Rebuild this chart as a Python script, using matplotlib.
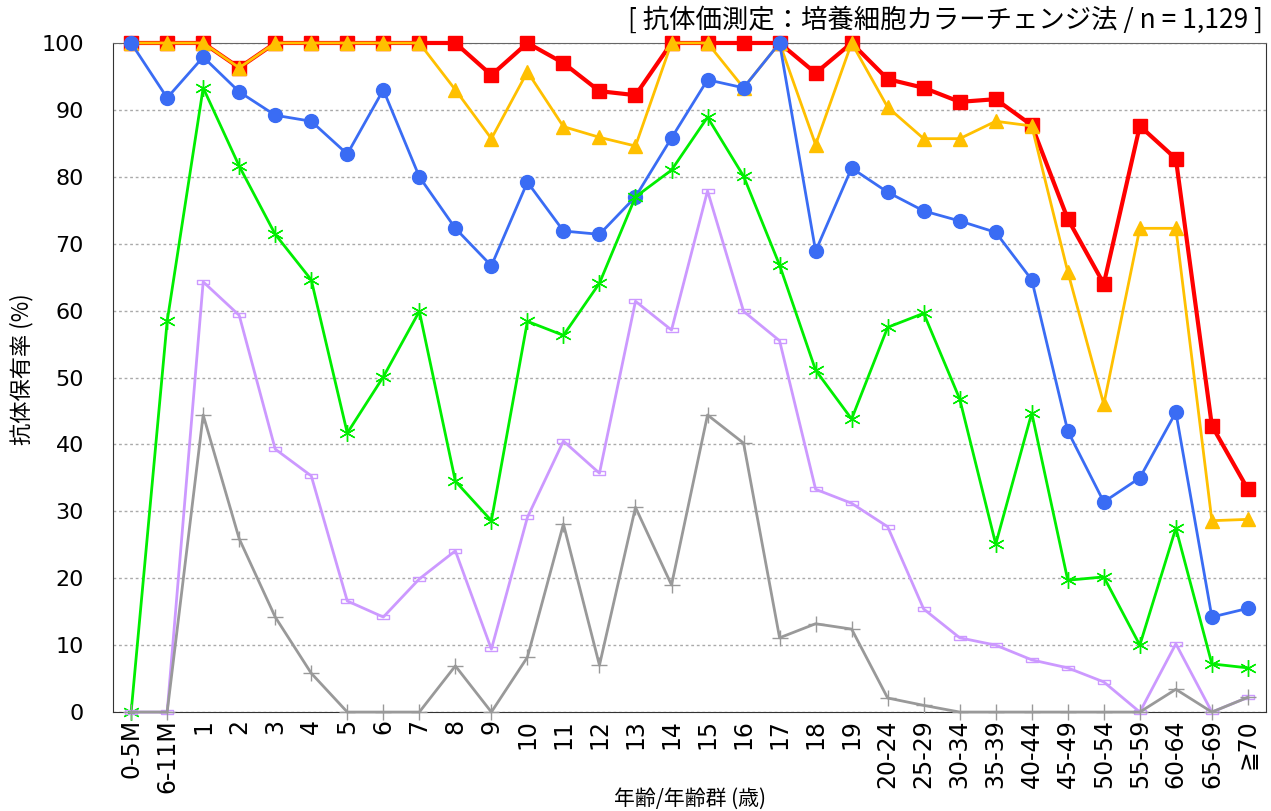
import matplotlib
matplotlib.use("Agg")
import matplotlib.pyplot as plt
import numpy as np

plt.rcParams['font.family'] = ['DejaVu Sans', 'Noto Sans CJK JP']
cjk = ['Noto Sans CJK JP', 'DejaVu Sans']

ages = ['0-5M', '6-11M'] + [str(a) for a in range(1, 20)] + \
    ['20-24', '25-29', '30-34', '35-39', '40-44', '45-49', '50-54',
     '55-59', '60-64', '65-69', '≧70']

# 抗体保有率 (%) – 各系列
red = [100, 100, 100, 96.3, 100, 100, 100, 100, 100, 100, 95.2, 100, 97.0, 92.8, 92.2,
       100, 100, 100, 100, 95.5, 100, 94.6, 93.3, 91.2, 91.6, 87.7, 73.7, 64.0, 87.6,
       82.7, 42.8, 33.3]
yellow = [100, 100, 100, 96.3, 100, 100, 100, 100, 100, 93.0, 85.7, 95.7, 87.5, 85.9, 84.6,
          100, 100, 93.3, 100, 84.8, 100, 90.4, 85.7, 85.7, 88.3, 87.6, 65.8, 46.0, 72.3,
          72.3, 28.6, 28.8]
blue = [100, 91.8, 97.9, 92.7, 89.2, 88.3, 83.4, 93.0, 80.0, 72.3, 66.7, 79.2, 71.9, 71.4,
        77.0, 85.8, 94.5, 93.3, 100, 68.9, 81.3, 77.7, 74.9, 73.4, 71.7, 64.6, 42.0, 31.4,
        35.0, 44.8, 14.2, 15.5]
green = [0, 58.4, 93.3, 81.6, 71.4, 64.6, 41.7, 50.1, 59.9, 34.5, 28.6, 58.4, 56.3, 64.1,
         77.0, 81.0, 88.9, 80.1, 66.8, 51.1, 43.8, 57.5, 59.6, 46.8, 25.1, 44.7, 19.7, 20.2,
         10.0, 27.5, 7.2, 6.6]
purple = [0, 0, 64.3, 59.3, 39.3, 35.3, 16.6, 14.2, 19.9, 24.1, 9.4, 29.1, 40.5, 35.7, 61.4,
          57.1, 77.9, 59.9, 55.5, 33.3, 31.2, 27.7, 15.4, 11.1, 10.0, 7.8, 6.6, 4.5, 0,
          10.2, 0, 2.2]
gray = [0, 0, 44.4, 25.9, 14.2, 5.8, 0, 0, 0, 6.9, 0, 8.2, 28.1, 7.0, 30.6, 19.0, 44.4,
        40.2, 11.1, 13.2, 12.4, 2.1, 1.0, 0, 0, 0, 0, 0, 0, 3.4, 0, 2.2]

x = np.arange(len(ages))

fig = plt.figure(figsize=(12.71, 8.11), dpi=100)
ax = fig.add_axes([0.089, 0.122, 0.907, 0.825])

# 横長の小さな四角マーカー
bar_marker = [(-1, -0.3), (1, -0.3), (1, 0.3), (-1, 0.3), (-1, -0.3)]

ax.plot(x, red, color='#ff0000', lw=3, marker='s', ms=10, clip_on=False, zorder=3)
ax.plot(x, yellow, color='#ffc000', lw=2, marker='^', ms=10, clip_on=False, zorder=4)
ax.plot(x, blue, color='#3a6cf4', lw=2, marker='o', ms=10, clip_on=False, zorder=5)
ax.plot(x, green, color='#00ee00', lw=2, marker=(6, 2, 0), ms=12, mew=1,
        clip_on=False, zorder=6)
ax.plot(x, purple, color='#cc99ff', lw=2, marker=bar_marker, ms=9, mew=1,
        markerfacecolor='none', clip_on=False, zorder=7)
ax.plot(x, gray, color='#999999', lw=2, marker='+', ms=12, mew=1, clip_on=False, zorder=8)

ax.set_xlim(-0.5, len(ages) - 0.5)
ax.set_ylim(0, 100)
ax.set_yticks(range(0, 101, 10))
ax.set_xticks(x)
ax.set_xticklabels(ages, rotation=90, fontsize=17)
ax.tick_params(axis='y', labelsize=16, length=0, pad=21)
ax.tick_params(axis='x', length=0, pad=5)

ax.yaxis.grid(True, linestyle=(0, (2, 2)), color='#aaaaaa', lw=1)
ax.set_axisbelow(True)
ax.spines['top'].set_color('#666666')
for s in ['left', 'bottom', 'right']:
    ax.spines[s].set_color('#333333')

fig.text(0.0173, 0.545, '抗体保有率 (%)', fontsize=16, rotation=90,
         ha='center', va='center', family=cjk)
fig.text(0.543, 0.015, '年齢/年齢群 (歳)', fontsize=15, ha='center', va='center',
         family=cjk)
fig.text(0.994, 0.975, '[ 抗体価測定：培養細胞カラーチェンジ法 / n = 1,129 ]',
         fontsize=19, ha='right', va='center', family=cjk)

fig.savefig('out.png', dpi=100)
